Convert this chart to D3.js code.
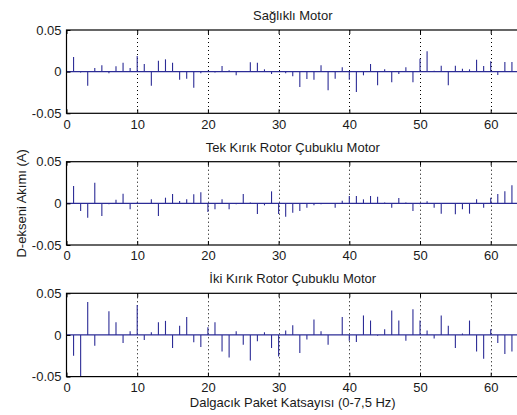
<!DOCTYPE html>
<html>
<head>
<meta charset="utf-8">
<script src="https://cdn.jsdelivr.net/npm/d3@7"></script>
<style>
  html, body { margin: 0; padding: 0; background: #fff; }
  svg { display: block; }
  text { font-family: "Liberation Sans", Arial, sans-serif; fill: #1a1a1a; }
</style>
</head>
<body>
<svg id="chart" width="517" height="415"></svg>
<script>
// ---- data ----
const titles = ["Sağlıklı Motor", "Tek Kırık Rotor Çubuklu Motor", "İki Kırık Rotor Çubuklu Motor"];
const xLabel = "Dalgacık Paket Katsayısı (0-7,5 Hz)";
const yLabel = "D-ekseni Akımı (A)";
const xTicks = [0, 10, 20, 30, 40, 50, 60];
const yTicks = [-0.05, 0, 0.05];
const gridX = [10, 20, 30, 40, 50, 60];

const healthy = [
  0.0176, -0.001, -0.0168, 0.0044, 0.0076, -0.002, 0.0064, 0.0108, 0.0044, 0.0188,
  0.0092, -0.0168, 0.0132, 0.0148, 0.0108, -0.0096, -0.0084, -0.0192, -0.002, 0.001,
  -0.001, 0.0068, 0.0016, -0.0044, 0.0, 0.0112, 0.0108, 0.0028, -0.0028, 0.0,
  -0.002, -0.0056, -0.0184, -0.0088, -0.0096, 0.0076, -0.0224, -0.0084, 0.0052, -0.0096,
  -0.0244, -0.0044, 0.0092, -0.0164, 0.0028, -0.0128, -0.0028, 0.0052, -0.0128, 0.0156,
  0.0244, 0.001, 0.0072, -0.0164, 0.0072, 0.0036, 0.0028, 0.0144, 0.0068, 0.0124,
  -0.004, 0.0116, 0.0116
];
const oneBroken = [
  0.0208, -0.0092, -0.0172, 0.0248, -0.0152, -0.001, 0.0044, 0.0116, -0.0072, 0.001,
  0.0, 0.0048, -0.0152, 0.0068, 0.0112, 0.0028, 0.0048, 0.0108, 0.0132, -0.0104,
  -0.0072, 0.0048, -0.0072, -0.001, 0.0112, 0.001, -0.0128, -0.0024, 0.0144, -0.0128,
  -0.016, -0.0112, -0.0092, -0.0052, -0.0024, -0.001, 0.0, -0.0052, 0.0032, 0.0088,
  0.0088, 0.0048, 0.0088, 0.008, 0.001, -0.0052, 0.0064, 0.001, -0.0092, -0.001,
  0.0024, -0.0052, -0.0124, 0.0, -0.0132, -0.0072, -0.0124, 0.0048, -0.0052, 0.0068,
  0.0112, 0.0144, 0.0216
];
const twoBroken = [
  -0.025, -0.05, 0.0395, -0.013, 0.0, 0.0286, 0.0153, -0.0097, 0.0044, 0.0359,
  -0.006, 0.0032, 0.0153, 0.0169, -0.0157, 0.0109, 0.0214, -0.0089, -0.0145, 0.0093,
  0.0153, -0.0198, -0.027, 0.0044, -0.0117, -0.0306, -0.0077, 0.0032, -0.0157, -0.026,
  0.0052, 0.0117, -0.0218, -0.0056, 0.0185, 0.0044, -0.0117, 0.0, 0.0214, -0.0069,
  -0.0085, 0.0234, 0.0173, -0.001, 0.0069, 0.0294, 0.0173, -0.0069, 0.031, 0.0173,
  0.0052, -0.0044, 0.0234, 0.0109, -0.0157, 0.0016, 0.0173, -0.0198, -0.0286, 0.0069,
  -0.0097, -0.023, -0.0198
];
const seriesList = [healthy, oneBroken, twoBroken];

// ---- layout ----
const svg = d3.select("#chart");
const left = 66.5, right = 519;
const panelTops = [30, 161.7, 293.3];
const panelH = 83.3;
const stemColor = "#2c2c96";

const x = d3.scaleLinear().domain([0, 64]).range([left, right]);

seriesList.forEach((vals, i) => {
  const top = panelTops[i];
  const y = d3.scaleLinear().domain([-0.05, 0.05]).range([top + panelH, top]);
  const g = svg.append("g");

  // grid
  g.selectAll(".grid").data(gridX).enter().append("line")
    .attr("x1", d => Math.round(x(d)) + 0.5).attr("x2", d => Math.round(x(d)) + 0.5)
    .attr("y1", top).attr("y2", top + panelH)
    .attr("stroke", "#000").attr("stroke-width", 1).attr("stroke-dasharray", "1,3");

  // baseline
  g.append("line")
    .attr("x1", left).attr("x2", right)
    .attr("y1", y(0)).attr("y2", y(0))
    .attr("stroke", stemColor).attr("stroke-width", 1.2);

  // stems
  g.selectAll(".stem").data(vals).enter().append("line")
    .attr("x1", (d, k) => x(k + 1)).attr("x2", (d, k) => x(k + 1))
    .attr("y1", y(0)).attr("y2", d => y(d))
    .attr("stroke", stemColor).attr("stroke-width", 1.1);

  // axes (ticks inward)
  const xAxis = d3.axisBottom(x).tickValues(xTicks).tickSize(-4).tickPadding(6).tickFormat(d3.format("d"));
  const gx = g.append("g").attr("transform", `translate(0,${top + panelH})`).call(xAxis);
  const xTop = d3.axisTop(x).tickValues(xTicks).tickSize(-4).tickFormat("");
  const gxt = g.append("g").attr("transform", `translate(0,${top})`).call(xTop);
  const yAxis = d3.axisLeft(y).tickValues(yTicks).tickSize(-4).tickPadding(5)
    .tickFormat(d => d === 0 ? "0" : d3.format(".2f")(d).replace("−", "-"));
  const gy = g.append("g").attr("transform", `translate(${left},0)`).call(yAxis);
  [gx, gxt, gy].forEach(a => {
    a.select(".domain").remove();
    a.selectAll(".tick line").attr("stroke", "#000");
    a.selectAll("text").attr("font-size", "13px").attr("fill", "#1a1a1a")
      .attr("font-family", "'Liberation Sans', Arial, sans-serif");
  });

  // box
  g.append("rect")
    .attr("x", left).attr("y", top).attr("width", right - left).attr("height", panelH)
    .attr("fill", "none").attr("stroke", "#000").attr("stroke-width", 1.2);

  // title
  svg.append("text")
    .attr("x", (left + right) / 2).attr("y", top - 10)
    .attr("text-anchor", "middle").attr("font-size", "13px")
    .text(titles[i]);
});

// x label
svg.append("text")
  .attr("x", (left + right) / 2).attr("y", 407)
  .attr("text-anchor", "middle").attr("font-size", "13px")
  .text(xLabel);

// y label
svg.append("text")
  .attr("transform", `translate(26,${(panelTops[1] + panelH / 2)}) rotate(-90)`)
  .attr("text-anchor", "middle").attr("font-size", "13px")
  .text(yLabel);
</script>
</body>
</html>
